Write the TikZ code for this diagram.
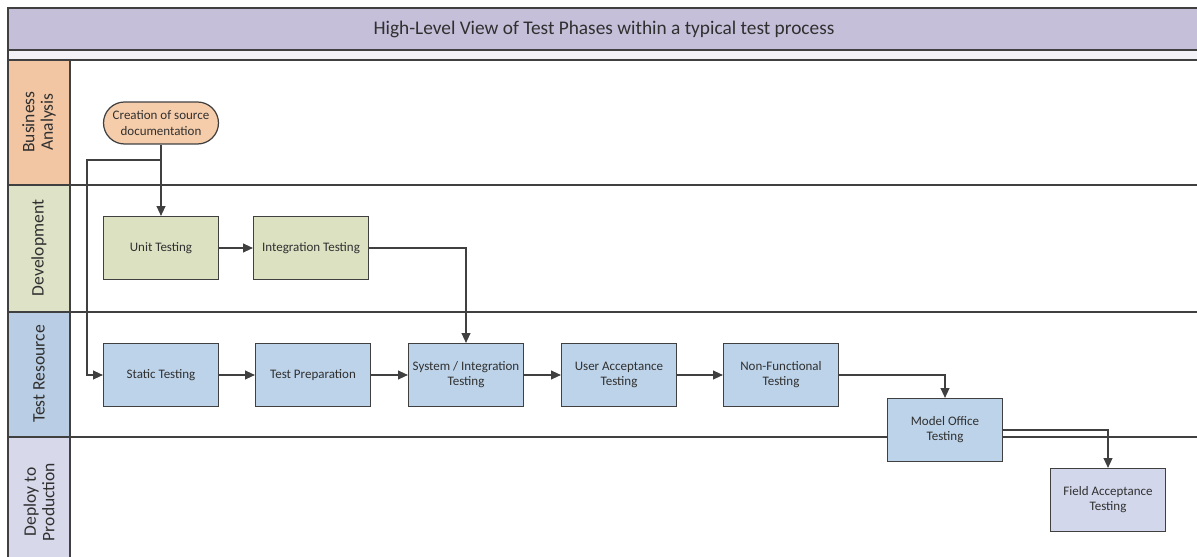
\documentclass[tikz,border=0pt]{standalone}
\usepackage{fontspec}
\setmainfont{Carlito}
\usetikzlibrary{positioning,arrows.meta}
\definecolor{titlebar}{HTML}{C5BFD9}
\definecolor{titlestrip}{HTML}{F3F2F7}
\definecolor{lineclr}{HTML}{404040}
\definecolor{txtclr}{HTML}{303030}
\definecolor{baclr}{HTML}{F2C6A3}
\definecolor{devclr}{HTML}{DEE2C6}
\definecolor{trclr}{HTML}{B9CEE4}
\definecolor{depclr}{HTML}{D7D9EB}
\definecolor{docfill}{HTML}{F6CDAB}
\definecolor{devbox}{HTML}{DCE1C2}
\definecolor{trbox}{HTML}{BDD3E9}
\definecolor{depbox}{HTML}{D3D7EB}
\begin{document}
\begin{tikzpicture}[x=0.02cm,y=-0.02cm,
  phase/.style={draw=lineclr,line width=0.7pt,minimum width=2.3cm,minimum height=1.26cm,align=center,
    font=\fontsize{7.4}{8.6}\selectfont,text=txtclr,inner sep=1pt},
  lanelabel/.style={rotate=90,align=center,text=txtclr,font=\fontsize{10}{10.5}\selectfont},
  arr/.style={-{Triangle[length=5.5pt,width=5pt]},line width=0.6pt,color=lineclr},
  lane/.style={draw=lineclr,line width=0.7pt}]
\useasboundingbox (0,0) rectangle (1197,557);
% title bar
\filldraw[fill=titlebar,lane] (8,8) rectangle (1200,50);
\filldraw[fill=titlestrip,lane] (8,50) rectangle (1200,60);
\node[text=txtclr] (title) at (604,29) {\fontsize{11}{12}\selectfont High-Level View of Test Phases within a typical test process};
% lane headers
\filldraw[fill=baclr,lane] (8,60) rectangle (70,185);
\filldraw[fill=devclr,lane] (8,185) rectangle (70,312);
\filldraw[fill=trclr,lane] (8,312) rectangle (70,437);
\filldraw[fill=depclr,lane] (8,437) rectangle (70,560);
\node[lanelabel] (ba) at (39,122) {Business\\Analysis};
\node[lanelabel] (dev) at (39,248) {Development};
\node[lanelabel] (tr) at (39,374) {Test Resource};
\node[lanelabel] (dep) at (39,502) {Deploy to\\Production};
% lane borders
\foreach \y in {185,312,437} \draw[lane] (70,\y) -- (1200,\y);

% phases
\node[phase,fill=docfill,minimum height=0.84cm,rounded corners=0.42cm] (creation) at (161,123) {Creation of source\\documentation};
\node[phase,fill=devbox] (unit) at (161,248) {Unit Testing};
\node[phase,fill=devbox] (integ) at (311,248) {Integration Testing};
\node[phase,fill=trbox] (static) at (161,375) {Static Testing};
\node[phase,fill=trbox] (prep) at (313,375) {Test Preparation};
\node[phase,fill=trbox] (sysint) at (466,375) {System / Integration\\Testing};
\node[phase,fill=trbox] (uat) at (619,375) {User Acceptance\\Testing};
\node[phase,fill=trbox] (nonfunc) at (781,375) {Non-Functional\\Testing};
\node[phase,fill=trbox] (model) at (945,430) {Model Office\\Testing};
\node[phase,fill=depbox] (field) at (1108,500) {Field Acceptance\\Testing};

% flow
\coordinate (split) at (161,160);
\coordinate (bend) at (87,160);
\draw[arr] (creation) -- (unit);
\draw[arr] (split) -- (bend) |- (static);
\draw[arr] (unit) -- (integ);
\draw[arr] (integ) -| (sysint);
\draw[arr] (static) -- (prep);
\draw[arr] (prep) -- (sysint);
\draw[arr] (sysint) -- (uat);
\draw[arr] (uat) -- (nonfunc);
\draw[arr] (nonfunc) -| (model);
\draw[arr] (model) -| (field);
\end{tikzpicture}
\end{document}
